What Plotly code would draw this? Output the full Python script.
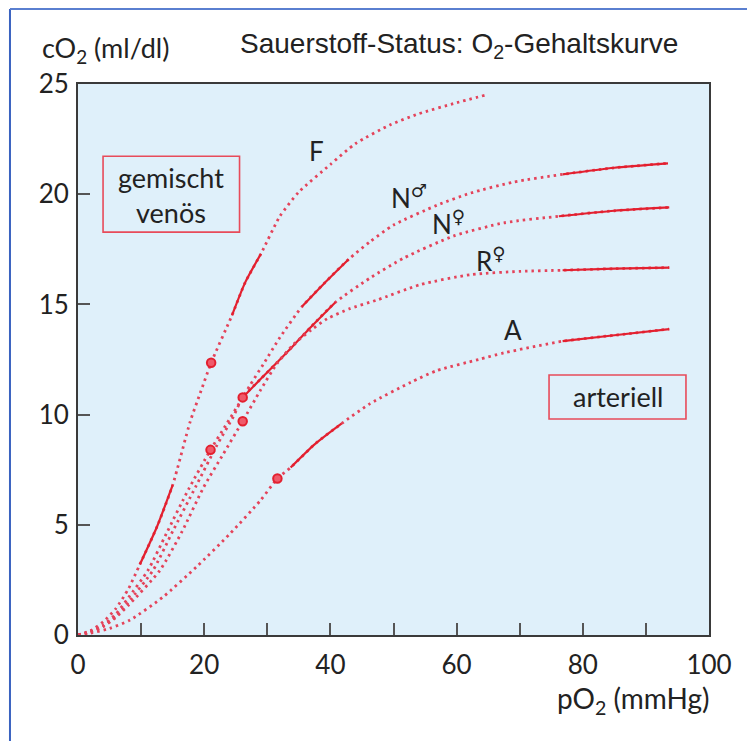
import plotly.graph_objects as go

# ---- data ----
F_x = [0, 2, 4, 6, 8, 9.8, 12.5, 15, 17.8, 19.4, 21.1, 24.4, 26.5, 29, 32, 35, 40, 44, 49.5, 54, 60, 64.6]
F_y = [0, 0.2, 0.6, 1.2, 2.1, 3.2, 4.9, 6.8, 9.7, 11.0, 12.35, 14.5, 16.0, 17.3, 19.0, 20.1, 21.35, 22.3, 23.15, 23.65, 24.15, 24.5]

Nm_x = [0, 2, 4, 6, 8, 11.1, 14, 17.5, 21, 23.6, 26.1, 27.3, 29.4, 32, 35.5, 39, 42.9, 46.3, 50, 56.9, 62.2, 69, 76.8, 85, 93.5]
Nm_y = [0, 0.15, 0.45, 0.95, 1.7, 2.94, 4.6, 6.6, 8.4, 9.6, 10.77, 11.35, 12.3, 13.5, 14.9, 15.95, 17.05, 17.85, 18.6, 19.5, 20.05, 20.55, 20.9, 21.2, 21.4]

Nf_x = [0, 2, 4, 6, 8, 11.9, 15, 18.6, 22, 24.6, 26.1, 28.9, 31.5, 34.2, 37, 40.8, 46.3, 51.6, 59.5, 67.5, 76.2, 85, 93.7]
Nf_y = [0, 0.15, 0.4, 0.85, 1.5, 2.94, 4.7, 6.7, 8.6, 9.9, 10.78, 11.6, 12.35, 13.15, 14.0, 15.1, 16.2, 17.1, 18.1, 18.7, 19.0, 19.25, 19.4]

Rf_x = [0, 2, 4, 6, 8, 13, 16.5, 19.9, 23, 26.1, 28.9, 31.5, 34.2, 37, 39.5, 43, 47.4, 54.3, 62.2, 70.2, 76.8, 85, 93.7]
Rf_y = [0, 0.14, 0.38, 0.8, 1.35, 2.94, 4.7, 6.7, 8.2, 9.7, 11.1, 12.3, 13.2, 13.85, 14.35, 14.8, 15.2, 15.9, 16.35, 16.5, 16.55, 16.62, 16.67]

A_x = [0, 2, 5, 8.25, 13.5, 18.8, 24.1, 28.9, 31.6, 33.7, 37.5, 41.8, 46.3, 52.7, 56.9, 63.5, 67.5, 76.8, 85, 93.7]
A_y = [0, 0.08, 0.3, 0.68, 1.73, 3.1, 4.6, 6.1, 7.1, 7.6, 8.65, 9.6, 10.5, 11.46, 12.0, 12.5, 12.8, 13.33, 13.6, 13.88]

# solid-drawn sections of each curve (pO2 ranges)
F_solid = [(9.8, 15), (24.4, 29)]
Nm_solid = [(35.5, 42.9), (76.8, 93.5)]
Nf_solid = [(26.1, 40.8), (76.2, 93.7)]
Rf_solid = [(76.8, 93.7)]
A_solid = [(33.7, 41.8), (76.8, 93.7)]

# mixed-venous points
venous_x = [21.1, 21, 26.1, 26.1, 31.6]
venous_y = [12.35, 8.4, 10.78, 9.7, 7.1]

curve_labels = ["F", "N<sup>♂</sup>", "N<sup>♀</sup>", "R<sup>♀</sup>", "A"]
label_x = [37.8, 52.4, 58.7, 65.4, 69.0]
label_y = [21.95, 19.9, 18.7, 17.06, 13.85]

x_ticks = [0, 20, 40, 60, 80, 100]
y_ticks = [0, 5, 10, 15, 20, 25]

# ---- figure ----
RED_DOT = "#e4435a"
RED = "#e3202f"

fig = go.Figure()
curves = [(F_x, F_y, F_solid), (Nm_x, Nm_y, Nm_solid), (Nf_x, Nf_y, Nf_solid),
          (Rf_x, Rf_y, Rf_solid), (A_x, A_y, A_solid)]
for cx, cy, segs in curves:
    fig.add_trace(go.Scatter(x=cx, y=cy, mode="lines",
                             line=dict(color=RED_DOT, width=2.8, dash="2.5px,4px", shape="spline", smoothing=0.6),
                             hoverinfo="skip", showlegend=False))
    for a, b in segs:
        sx = [x for x in cx if a <= x <= b]
        sy = [y for x, y in zip(cx, cy) if a <= x <= b]
        fig.add_trace(go.Scatter(x=sx, y=sy, mode="lines", line=dict(color=RED, width=2.2, shape="spline", smoothing=0.6),
                                 hoverinfo="skip", showlegend=False))

fig.add_trace(go.Scatter(x=venous_x, y=venous_y, mode="markers",
                         marker=dict(size=8.5, color="#ef5a6a", line=dict(color=RED, width=2)),
                         showlegend=False))

for t, lx, ly in zip(curve_labels, label_x, label_y):
    fig.add_annotation(x=lx, y=ly, text=t, showarrow=False, font=dict(family="Lato, DejaVu Sans", size=26, color="#222"))

# boxes
fig.add_shape(type="rect", x0=3.97, x1=25.6, y0=18.28, y1=21.72, line=dict(color="#e84b5a", width=1.6), fillcolor="rgba(0,0,0,0)")
fig.add_annotation(x=14.8, y=19.95, text="gemischt<br>venös", showarrow=False,
                   font=dict(family="Lato", size=27, color="#222"))
fig.add_shape(type="rect", x0=74.65, x1=96.35, y0=9.8, y1=11.8, line=dict(color="#e84b5a", width=1.6), fillcolor="rgba(0,0,0,0)")
fig.add_annotation(x=85.5, y=10.8, text="arteriell", showarrow=False,
                   font=dict(family="Lato", size=27, color="#222"))

# titles
fig.add_annotation(xref="paper", yref="paper", x=-0.06, y=1.063, xanchor="left", yanchor="middle",
                   text="cO<sub>2</sub> (ml/dl)", showarrow=False, font=dict(family="Lato", size=27, color="#222"))
fig.add_annotation(xref="paper", yref="paper", x=0.2536, y=1.069, xanchor="left", yanchor="middle",
                   text="Sauerstoff-Status: O<sub>2</sub>-Gehaltskurve", showarrow=False,
                   font=dict(family="Liberation Sans", size=28, color="#222"))
fig.add_annotation(xref="paper", yref="paper", x=1.005, y=-0.118, xanchor="right", yanchor="middle",
                   text="pO<sub>2</sub> (mmHg)", showarrow=False, font=dict(family="Lato", size=28, color="#222"))

# figure border (blue, left and top)
fig.add_shape(type="line", xref="paper", yref="paper", x0=-0.1078, x1=-0.1078, y0=1.136, y1=-0.2,
              line=dict(color="#3a62c0", width=2))
fig.add_shape(type="line", xref="paper", yref="paper", x0=-0.1078, x1=1.08, y0=1.136, y1=1.136,
              line=dict(color="#5a7fd0", width=2))

axis_common = dict(showgrid=False, zeroline=False, showline=True, linecolor="#3a3a3a", linewidth=2, mirror=True,
                   ticks="inside", ticklen=12, tickcolor="#555", tickwidth=1.5,
                   tickfont=dict(family="Lato", size=26, color="#222"))
fig.update_xaxes(range=[0, 100], tickvals=x_ticks, ticktext=[str(v) for v in x_ticks],
                 minor=dict(dtick=10, ticks="inside", ticklen=12, tickcolor="#555", tickwidth=1.5),
                 ticklabelstandoff=6, **axis_common)
fig.update_yaxes(range=[0, 25], tickvals=y_ticks, ticktext=[str(v) for v in y_ticks], ticklabelstandoff=2, **axis_common)

fig.update_layout(width=755, height=741, margin=dict(l=70, r=54, t=76, b=114),
                  plot_bgcolor="#dff0fa", paper_bgcolor="white", showlegend=False)

fig.write_html("out.html")
